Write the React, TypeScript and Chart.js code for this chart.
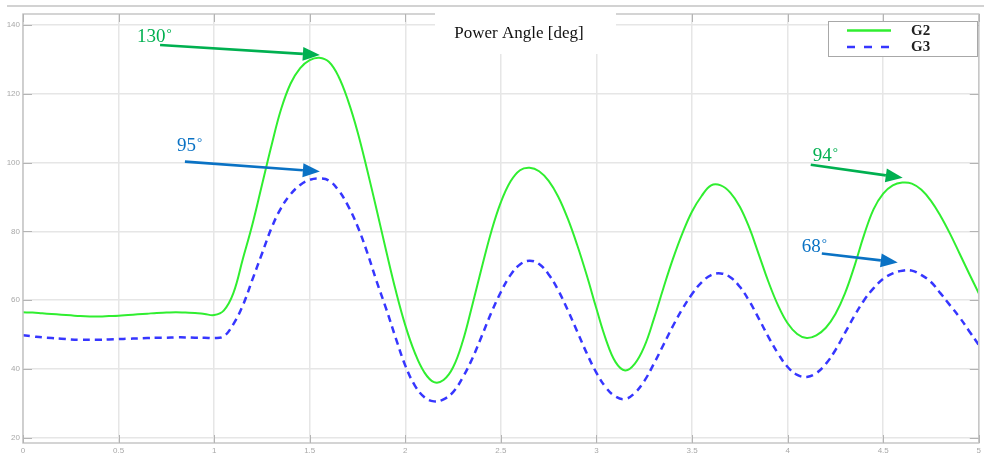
import React, { useEffect, useRef } from 'react';
import { Chart, registerables } from 'chart.js';

Chart.register(...registerables);

// ---- Data (time in s, power angle in deg) ----
const timeS = [
  0, 0.05, 0.1, 0.15, 0.2, 0.25, 0.3, 0.35, 0.4, 0.45,
  0.5, 0.55, 0.6, 0.65, 0.7, 0.75, 0.8, 0.85, 0.9, 0.95,
  1, 1.05, 1.1, 1.15, 1.2, 1.25, 1.3, 1.35, 1.4, 1.45,
  1.5, 1.55, 1.6, 1.65, 1.7, 1.75, 1.8, 1.85, 1.9, 1.95,
  2, 2.05, 2.1, 2.15, 2.2, 2.25, 2.3, 2.35, 2.4, 2.45,
  2.5, 2.55, 2.6, 2.65, 2.7, 2.75, 2.8, 2.85, 2.9, 2.95,
  3, 3.05, 3.1, 3.15, 3.2, 3.25, 3.3, 3.35, 3.4, 3.45,
  3.5, 3.55, 3.6, 3.65, 3.7, 3.75, 3.8, 3.85, 3.9, 3.95,
  4, 4.05, 4.1, 4.15, 4.2, 4.25, 4.3, 4.35, 4.4, 4.45,
  4.5, 4.55, 4.6, 4.65, 4.7, 4.75, 4.8, 4.85, 4.9, 4.95,
  5,
];

const g2Angle = [
  56.5, 56.4, 56.2, 56.0, 55.8, 55.6, 55.4, 55.3, 55.3, 55.4,
  55.5, 55.7, 55.9, 56.1, 56.3, 56.4, 56.5, 56.4, 56.3, 56.0,
  55.7, 57.0, 62.0, 72.0, 82.0, 93.5, 105.0, 115.5, 123.0, 127.5,
  129.8, 130.5, 129.3, 125.1, 118.1, 109.0, 98.0, 86.3, 74.3, 62.8,
  52.7, 44.7, 39.0, 36.2, 36.8, 40.5, 48.0, 58.5, 69.5, 80.0,
  88.5, 94.5, 97.8, 98.5, 97.5, 94.7, 90.1, 83.7, 75.9, 67.1,
  57.5, 48.5, 42.0, 39.6, 41.5, 46.5, 54.5, 63.5, 72.0, 79.5,
  85.8, 90.3, 93.4, 93.4, 91.3, 87.2, 81.0, 73.2, 65.3, 58.5,
  53.3, 50.2, 49.0, 49.8, 52.0, 56.0, 62.0, 70.0, 79.0, 86.5,
  91.0, 93.4, 94.2, 93.9, 92.1, 88.9, 84.5, 79.3, 73.5, 67.7,
  62.0,
];

const g3Angle = [
  49.8, 49.5, 49.2, 49.0, 48.8, 48.6, 48.5, 48.5, 48.5, 48.6,
  48.7, 48.8, 48.9, 49.0, 49.1, 49.1, 49.2, 49.2, 49.1, 49.1,
  49.0, 49.5, 53.0, 58.5, 66.0, 73.5, 81.0, 86.8, 90.8, 93.5,
  95.0, 95.4, 94.8, 92.0, 87.5, 81.5, 74.0, 65.5, 57.5, 49.0,
  41.0, 35.2, 31.8, 30.6, 31.2, 33.3, 37.5, 43.0, 49.6, 56.4,
  62.4, 67.3, 70.4, 71.5, 70.5, 67.5, 62.9, 57.1, 50.8, 44.5,
  38.9, 34.6, 32.0, 31.3, 33.0, 36.5, 41.5, 47.0, 52.5, 57.5,
  61.8, 65.2, 67.3, 67.8, 66.7, 63.9, 59.7, 54.6, 49.3, 44.5,
  40.6, 38.3, 37.7, 38.8, 41.5, 45.5, 50.5, 55.5, 60.0, 63.5,
  66.2, 67.8, 68.6, 68.6, 67.3, 65.3, 62.0, 58.5, 55.0, 51.0,
  47.0,
];

const seriesNames = ['G2', 'G3'];
const chartTitle = 'Power Angle [deg]';

// ---- Annotations (data coordinates) ----
const annText = ['130', '95', '94', '68'];
const annKind = ['G2', 'G3', 'G2', 'G3'];
const annTextX = [0.596, 0.805, 4.132, 4.074];
const annTextY = [135.1, 103.5, 100.6, 73.9];
const annTailX = [0.717, 0.847, 4.121, 4.179];
const annTailY = [134.2, 100.3, 99.4, 73.6];
const annTipX = [1.553, 1.553, 4.602, 4.576];
const annTipY = [131.3, 97.4, 95.6, 71.0];

const G2_COLOR = '#30ee30';
const G3_COLOR = '#3636ff';
const ANN_COLORS: Record<string, string> = { G2: '#00b050', G3: '#0a72c4' };

const overlayPlugin = {
  id: 'overlay',
  afterDraw(chart: any) {
    const { ctx, chartArea: a, scales } = chart;
    const xs = scales.x;
    const ys = scales.y;
    ctx.save();

    // figure top edge
    ctx.strokeStyle = '#d2d2d2';
    ctx.lineWidth = 2;
    ctx.beginPath();
    ctx.moveTo(7, 6);
    ctx.lineTo(984, 6);
    ctx.stroke();

    // frame
    ctx.strokeStyle = '#c6c6c6';
    ctx.lineWidth = 1.5;
    ctx.strokeRect(a.left, a.top, a.right - a.left, a.bottom - a.top);

    // inner tick marks
    ctx.strokeStyle = '#b4b4b4';
    ctx.lineWidth = 1;
    ctx.beginPath();
    ys.ticks.forEach((t: any) => {
      const py = Math.round(ys.getPixelForValue(t.value)) + 0.5;
      ctx.moveTo(a.left, py); ctx.lineTo(a.left + 9, py);
      ctx.moveTo(a.right, py); ctx.lineTo(a.right - 9, py);
    });
    xs.ticks.forEach((t: any) => {
      const px = Math.round(xs.getPixelForValue(t.value)) + 0.5;
      ctx.moveTo(px, a.bottom); ctx.lineTo(px, a.bottom - 8);
      ctx.moveTo(px, a.top); ctx.lineTo(px, a.top + 8);
    });
    ctx.stroke();

    // title box
    ctx.fillStyle = '#ffffff';
    ctx.fillRect(435, 11, 181, 43);
    ctx.fillStyle = '#111111';
    ctx.font = '17px "Liberation Serif", "Times New Roman", serif';
    ctx.textAlign = 'center';
    ctx.textBaseline = 'alphabetic';
    ctx.fillText(chartTitle, 519, 38);

    // legend
    ctx.fillStyle = '#ffffff';
    ctx.fillRect(828.5, 21.5, 149, 35);
    ctx.strokeStyle = '#a8a8a8';
    ctx.lineWidth = 1;
    ctx.strokeRect(828.5, 21.5, 149, 35);
    const legendColors = [G2_COLOR, G3_COLOR];
    const legendDash = [[], [8, 9]];
    seriesNames.forEach((name, i) => {
      const ly = 30.5 + i * 16.5;
      ctx.strokeStyle = legendColors[i];
      ctx.lineWidth = 2.5;
      ctx.setLineDash(legendDash[i]);
      ctx.beginPath();
      ctx.moveTo(847, ly);
      ctx.lineTo(891, ly);
      ctx.stroke();
      ctx.setLineDash([]);
      ctx.fillStyle = '#222222';
      ctx.font = 'bold 15px "Liberation Serif", "Times New Roman", serif';
      ctx.textAlign = 'left';
      ctx.textBaseline = 'middle';
      ctx.fillText(name, 911, ly + 0.5);
    });

    // annotations
    annText.forEach((txt, i) => {
      const col = ANN_COLORS[annKind[i]];
      const tx = xs.getPixelForValue(annTailX[i]);
      const ty = ys.getPixelForValue(annTailY[i]);
      const hx = xs.getPixelForValue(annTipX[i]);
      const hy = ys.getPixelForValue(annTipY[i]);
      const ang = Math.atan2(hy - ty, hx - tx);
      const headLen = 17;
      const headW = 7;
      const bx = hx - headLen * Math.cos(ang);
      const by = hy - headLen * Math.sin(ang);
      ctx.strokeStyle = col;
      ctx.fillStyle = col;
      ctx.lineWidth = 2.6;
      ctx.beginPath();
      ctx.moveTo(tx, ty);
      ctx.lineTo(bx, by);
      ctx.stroke();
      ctx.beginPath();
      ctx.moveTo(hx, hy);
      ctx.lineTo(bx + headW * Math.sin(ang), by - headW * Math.cos(ang));
      ctx.lineTo(bx - headW * Math.sin(ang), by + headW * Math.cos(ang));
      ctx.closePath();
      ctx.fill();

      const lx = xs.getPixelForValue(annTextX[i]);
      const ly = ys.getPixelForValue(annTextY[i]);
      ctx.font = '19px "Liberation Serif", "Times New Roman", serif';
      ctx.textAlign = 'left';
      ctx.textBaseline = 'alphabetic';
      ctx.fillText(txt, lx, ly);
      const w = ctx.measureText(txt).width;
      ctx.font = '13px "Liberation Serif", "Times New Roman", serif';
      ctx.fillText('°', lx + w + 1, ly - 5);
    });

    ctx.restore();
  },
};

export default function App() {
  const canvasRef = useRef<HTMLCanvasElement | null>(null);

  useEffect(() => {
    if (!canvasRef.current) return;
    const chart = new Chart(canvasRef.current, {
      type: 'line',
      data: {
        datasets: [
          {
            label: seriesNames[0],
            data: timeS.map((t, i) => ({ x: t, y: g2Angle[i] })),
            borderColor: G2_COLOR,
            borderWidth: 2,
            pointRadius: 0,
            tension: 0.4,
            fill: false,
          },
          {
            label: seriesNames[1],
            data: timeS.map((t, i) => ({ x: t, y: g3Angle[i] })),
            borderColor: G3_COLOR,
            borderWidth: 2.5,
            borderDash: [7, 5],
            pointRadius: 0,
            tension: 0.4,
            fill: false,
          },
        ],
      },
      options: {
        responsive: false,
        animation: false,
        layout: { padding: { top: 14, right: 5, left: 0, bottom: 0 } },
        plugins: {
          legend: { display: false },
          title: { display: false },
          tooltip: { enabled: false },
        },
        scales: {
          x: {
            type: 'linear',
            min: 0,
            max: 5,
            afterFit: (s: any) => { s.height = 15; },
            ticks: {
              stepSize: 0.5,
              color: '#a8a8a8',
              font: { size: 8, family: '"Liberation Sans", Arial, sans-serif' },
              padding: 3,
              maxRotation: 0,
              autoSkip: false,
              includeBounds: false,
              callback: (v: any) => String(Math.round(Number(v) * 10) / 10),
            },
            grid: { color: '#e6e6e6', lineWidth: 1.5, drawTicks: false },
            border: { display: false },
          },
          y: {
            type: 'linear',
            min: 18.5,
            max: 143.2,
            afterFit: (s: any) => { s.width = 23; },
            ticks: {
              stepSize: 20,
              color: '#a8a8a8',
              font: { size: 8, family: '"Liberation Sans", Arial, sans-serif' },
              padding: 3,
              includeBounds: false,
            },
            grid: { color: '#e6e6e6', lineWidth: 1.5, drawTicks: false },
            border: { display: false },
          },
        },
      },
      plugins: [overlayPlugin],
    } as any);
    return () => chart.destroy();
  }, []);

  return (
    <div style={{ position: 'fixed', left: 0, top: 0, width: 984, height: 458, background: '#fff' }}>
      <canvas ref={canvasRef} width={984} height={458} style={{ display: 'block', width: 984, height: 458 }} />
    </div>
  );
}
